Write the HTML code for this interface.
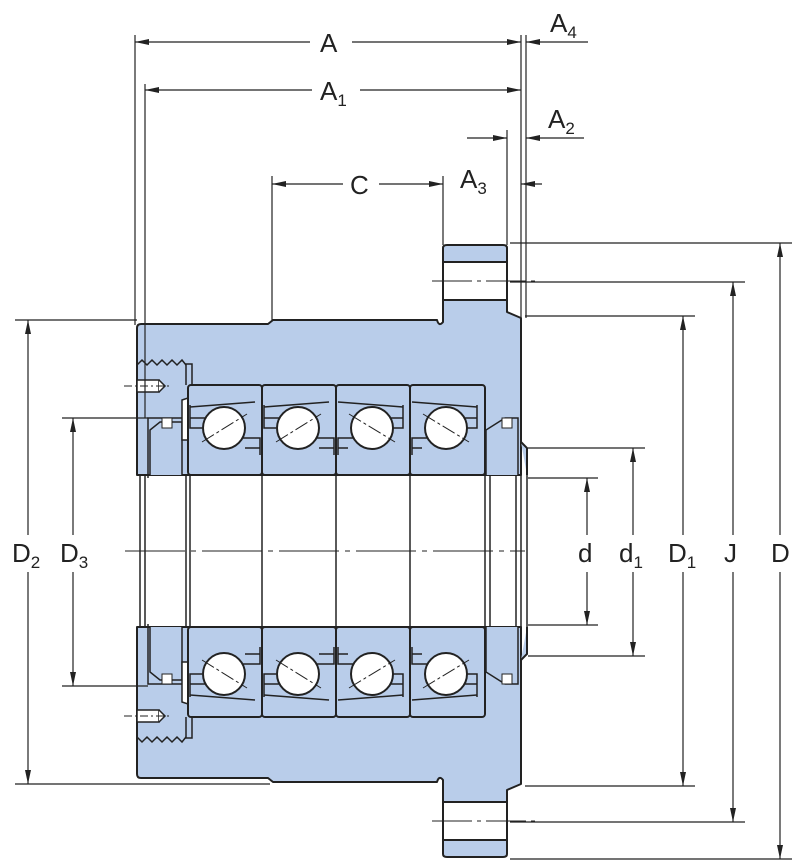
<!DOCTYPE html>
<html><head><meta charset="utf-8"><style>
html,body{margin:0;padding:0;background:#fff}
svg{display:block}
text{font-family:"Liberation Sans",sans-serif;fill:#222}
</style></head><body>
<svg width="800" height="867" viewBox="0 0 800 867" xmlns="http://www.w3.org/2000/svg">
<defs>
<marker id="ar" viewBox="0 0 14 6" refX="14" refY="3" markerWidth="14" markerHeight="6" orient="auto-start-reverse" markerUnits="userSpaceOnUse"><path d="M0,0 L14,3 L0,6 z" fill="#222"/></marker>
<g id="half">
  <!-- housing -->
  <path d="M137,328 Q137,324 141,324 L268,324 L273,320 L437,320 Q439,327 443,322 L443,248 Q443,245 447,245 L503,245 Q507,245 507,248 L507,312 L521,318 L521,475 L137,475 Z" fill="#b9cdea" stroke="#222" stroke-width="2" stroke-linejoin="round"/>
  <path d="M521,442 L527,448 L527,475" fill="#b9cdea" stroke="#222" stroke-width="2"/>
  <!-- flange hole -->
  <rect x="444" y="262" width="62" height="38" fill="#fff"/>
  <line x1="444" y1="262" x2="506" y2="262" stroke="#222" stroke-width="2"/>
  <line x1="444" y1="300" x2="506" y2="300" stroke="#222" stroke-width="2"/>
  <line x1="432" y1="281" x2="540" y2="281" stroke="#222" stroke-width="1" stroke-dasharray="40,5,4,5"/>
  <path d="M148,478 L148,418 L186,418" fill="none" stroke="#222" stroke-width="1.5"/>
  <!-- locknut -->
  <path d="M137,365 l5,-5 l5,5 l5,-5 l5,5 l5,-5 l5,5 l5,-5 l5,5 l5,-5 l4,5" fill="none" stroke="#222" stroke-width="1.5"/>
  <path d="M186,385 L186,364 L192,364 L192,385" fill="#b9cdea" stroke="#222" stroke-width="1.5"/>
  <rect x="137" y="380" width="22" height="12" fill="#fff" stroke="#222" stroke-width="1.5"/>
  <path d="M159,380 l6,6 l-6,6" fill="#fff" stroke="#222" stroke-width="1.5"/>
  <line x1="124" y1="386" x2="170" y2="386" stroke="#222" stroke-width="1" stroke-dasharray="8,3,2,3"/>
  <!-- left spacer -->
  <path d="M150,475 L150,430 L160,422 L182,422 L182,475" fill="#b9cdea" stroke="#222" stroke-width="1.5"/>
  <rect x="162" y="418" width="10" height="10" fill="#fff" stroke="#222" stroke-width="1"/>
  <path d="M182,400 L188,398 L188,440 L182,440 Z" fill="#fff" stroke="#222" stroke-width="1.5"/>
  <!-- right spacer -->
  <path d="M486,475 L486,430 L505,418 L518,418 L518,475" fill="#b9cdea" stroke="#222" stroke-width="1.5"/>
  <rect x="502" y="418" width="10" height="10" fill="#fff" stroke="#222" stroke-width="1"/>
  <!-- bearings -->
  <g stroke="#222" stroke-width="2">
    <rect x="188" y="385" width="74" height="90" rx="3" fill="#b9cdea"/>
    <rect x="262" y="385" width="74" height="90" rx="3" fill="#b9cdea"/>
    <rect x="336" y="385" width="74" height="90" rx="3" fill="#b9cdea"/>
    <rect x="410" y="385" width="75" height="90" rx="3" fill="#b9cdea"/>
  </g>
  <g fill="none" stroke="#222" stroke-width="1.5">
    <path d="M190,407 L255,402"/><path d="M190,405 L190,428 L202,428 M190,418 L205,418 M240,438 L260,438 L260,455 M245,448 L260,448"/>
    <path d="M264,407 L329,402"/><path d="M264,405 L264,428 L276,428 M264,418 L279,418 M314,438 L334,438 L334,455 M319,448 L334,448"/>
    <path d="M403,407 L338,402"/><path d="M403,405 L403,428 L391,428 M403,418 L388,418 M353,438 L338,438 L338,455 M348,448 L338,448"/>
    <path d="M477,407 L412,402"/><path d="M477,405 L477,428 L465,428 M477,418 L462,418 M427,438 L412,438 L412,455 M422,448 L412,448"/>
  </g>
  <g fill="#fff" stroke="#222" stroke-width="2">
    <circle cx="224" cy="428" r="21"/>
    <circle cx="298" cy="428" r="21"/>
    <circle cx="372" cy="428" r="21"/>
    <circle cx="446" cy="428" r="21"/>
  </g>
  <g stroke="#222" stroke-width="1" stroke-dasharray="14,3,3,3">
    <line x1="202" y1="442" x2="247" y2="414"/>
    <line x1="276" y1="442" x2="321" y2="414"/>
    <line x1="349" y1="414" x2="395" y2="442"/>
    <line x1="423" y1="414" x2="469" y2="442"/>
  </g>
  <!-- bore vertical lines -->
  <g stroke="#222" stroke-width="1.5">
    <line x1="140" y1="475" x2="140" y2="551"/>
    <line x1="145" y1="475" x2="145" y2="551"/>
    <line x1="186" y1="475" x2="186" y2="551"/>
    <line x1="190" y1="475" x2="190" y2="551"/>
    <line x1="262" y1="475" x2="262" y2="551"/>
    <line x1="336" y1="475" x2="336" y2="551"/>
    <line x1="410" y1="475" x2="410" y2="551"/>
    <line x1="485" y1="475" x2="485" y2="551"/>
    <line x1="490" y1="475" x2="490" y2="551"/>
    <line x1="516" y1="475" x2="516" y2="551"/>
    <line x1="521" y1="475" x2="521" y2="551"/>
    <line x1="527" y1="475" x2="527" y2="551"/>
  </g>
</g>
</defs>
<use href="#half"/>
<use href="#half" transform="matrix(1,0,0,-1,0,1102)"/>
<line x1="125" y1="551" x2="525" y2="551" stroke="#222" stroke-width="1" stroke-dasharray="60,6,5,6"/>

<g stroke="#222" stroke-width="1.2" fill="none">
  <line x1="135" y1="35" x2="135" y2="325"/>
  <line x1="145" y1="84" x2="145" y2="418"/>
  <line x1="272" y1="176" x2="272" y2="320"/>
  <line x1="443" y1="176" x2="443" y2="245"/>
  <line x1="507" y1="130" x2="507" y2="245"/>
  <line x1="521" y1="35" x2="521" y2="318"/>
  <line x1="526" y1="35" x2="526" y2="318"/>
  <line x1="135" y1="42" x2="521" y2="42" marker-start="url(#ar)" marker-end="url(#ar)"/>
  <line x1="588" y1="42" x2="526" y2="42" marker-end="url(#ar)"/>
  <line x1="145" y1="90" x2="521" y2="90" marker-start="url(#ar)" marker-end="url(#ar)"/>
  <line x1="467" y1="138" x2="507" y2="138" marker-end="url(#ar)"/>
  <line x1="584" y1="138" x2="526" y2="138" marker-end="url(#ar)"/>
  <line x1="272" y1="184" x2="443" y2="184" marker-start="url(#ar)" marker-end="url(#ar)"/>
  <line x1="542" y1="184" x2="521" y2="184" marker-end="url(#ar)"/>
  <line x1="510" y1="243" x2="792" y2="243"/>
  <line x1="510" y1="859" x2="792" y2="859"/>
  <line x1="510" y1="282" x2="745" y2="282"/>
  <line x1="510" y1="822" x2="745" y2="822"/>
  <line x1="525" y1="316" x2="695" y2="316"/>
  <line x1="525" y1="786" x2="695" y2="786"/>
  <line x1="528" y1="448" x2="645" y2="448"/>
  <line x1="528" y1="656" x2="645" y2="656"/>
  <line x1="528" y1="478" x2="598" y2="478"/>
  <line x1="528" y1="625" x2="598" y2="625"/>
  <line x1="15" y1="320" x2="137" y2="320"/>
  <line x1="15" y1="784" x2="270" y2="784"/>
  <line x1="62" y1="418" x2="148" y2="418"/>
  <line x1="62" y1="686" x2="148" y2="686"/>
  <line x1="780" y1="243" x2="780" y2="535" marker-start="url(#ar)"/>
  <line x1="780" y1="572" x2="780" y2="859" marker-end="url(#ar)"/>
  <line x1="733" y1="282" x2="733" y2="535" marker-start="url(#ar)"/>
  <line x1="733" y1="572" x2="733" y2="822" marker-end="url(#ar)"/>
  <line x1="683" y1="316" x2="683" y2="535" marker-start="url(#ar)"/>
  <line x1="683" y1="572" x2="683" y2="786" marker-end="url(#ar)"/>
  <line x1="633" y1="448" x2="633" y2="535" marker-start="url(#ar)"/>
  <line x1="633" y1="572" x2="633" y2="656" marker-end="url(#ar)"/>
  <line x1="587" y1="478" x2="587" y2="535" marker-start="url(#ar)"/>
  <line x1="587" y1="572" x2="587" y2="625" marker-end="url(#ar)"/>
  <line x1="28" y1="320" x2="28" y2="535" marker-start="url(#ar)"/>
  <line x1="28" y1="572" x2="28" y2="784" marker-end="url(#ar)"/>
  <line x1="73" y1="418" x2="73" y2="535" marker-start="url(#ar)"/>
  <line x1="73" y1="572" x2="73" y2="686" marker-end="url(#ar)"/>
</g>
<rect x="310" y="30" width="42" height="24" fill="#fff"/>
<rect x="312" y="78" width="48" height="24" fill="#fff"/>
<rect x="343" y="172" width="36" height="24" fill="#fff"/>
<g font-size="26">
  <text x="320" y="52">A</text>
  <text x="320" y="100">A<tspan font-size="17" dy="6">1</tspan></text>
  <text x="550" y="32">A<tspan font-size="17" dy="6">4</tspan></text>
  <text x="548" y="128">A<tspan font-size="17" dy="6">2</tspan></text>
  <text x="460" y="188">A<tspan font-size="17" dy="6">3</tspan></text>
  <text x="350" y="194">C</text>
  <text x="12" y="562">D<tspan font-size="17" dy="6">2</tspan></text>
  <text x="60" y="562">D<tspan font-size="17" dy="6">3</tspan></text>
  <text x="578" y="562">d</text>
  <text x="619" y="562">d<tspan font-size="17" dy="6">1</tspan></text>
  <text x="668" y="562">D<tspan font-size="17" dy="6">1</tspan></text>
  <text x="724" y="562">J</text>
  <text x="771" y="562">D</text>
</g>
</svg>
</body></html>
